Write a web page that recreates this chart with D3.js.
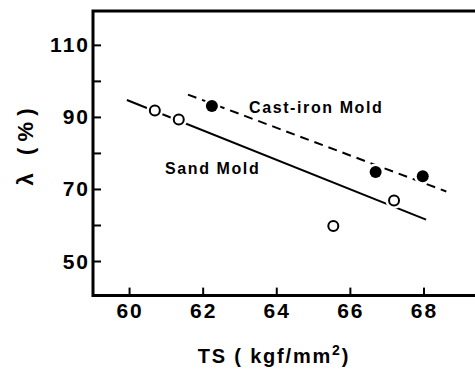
<!DOCTYPE html>
<html>
<head>
<meta charset="utf-8">
<script src="https://cdn.jsdelivr.net/npm/d3@7"></script>
<style>
  body { margin: 0; background: #fff; }
  svg text { font-family: Arial, "Liberation Sans", Helvetica, sans-serif; font-weight: bold; fill: #000; }
</style>
</head>
<body>
<svg id="chart" width="475" height="369"></svg>
<script>
const svg = d3.select("#chart");

// sand mold (open circles)
const sandTS = [60.7, 61.35, 65.55, 67.2];
const sandL = [91.8, 89.3, 59.7, 66.8];
// cast-iron mold (filled circles)
const ironTS = [62.25, 66.7, 67.98];
const ironL = [93.0, 74.7, 73.5];
// fitted lines, end points
const sandFitTS = [59.94, 68.07];
const sandFitL = [94.7, 61.5];
const ironFitTS = [61.6, 68.62];
const ironFitL = [96.2, 69.3];

const xTicks = [60, 62, 64, 66, 68];
const yTicks = [50, 60, 70, 80, 90, 100, 110];
const yLabels = [50, 70, 90, 110];

const x = d3.scaleLinear().domain([59.02, 69.4]).range([93, 475]);
const y = d3.scaleLinear().domain([40.4, 119.4]).range([295.6, 11]);

// frame: left, top, bottom
const frame = svg.append("g").attr("stroke", "#000").attr("stroke-width", 3).attr("fill", "none");
frame.append("path").attr("d", `M475,${y(119.4)} H${x(59.02)} V${y(40.4)} H475`);

// ticks pointing inward
const xAxis = svg.append("g").attr("transform", `translate(0,${y(40.4)})`)
  .call(d3.axisTop(x).tickValues(xTicks).tickSize(8).tickFormat(""));
xAxis.select(".domain").remove();
xAxis.selectAll("line").attr("stroke-width", 2);

svg.selectAll(".xlab").data(xTicks).join("text")
  .attr("class", "xlab")
  .attr("x", d => x(d) + 1)
  .attr("y", 318)
  .attr("text-anchor", "middle")
  .attr("font-size", 21)
  .attr("letter-spacing", 2)
  .text(d => d);

const yAxis = svg.append("g").attr("transform", `translate(${x(59.02)},0)`)
  .call(d3.axisRight(y).tickValues(yTicks).tickSize(8).tickFormat(""));
yAxis.select(".domain").remove();
yAxis.selectAll("line").attr("stroke-width", 2);

svg.selectAll(".ylab").data(yLabels).join("text")
  .attr("class", "ylab")
  .attr("x", 90)
  .attr("y", d => y(d) + 7.5)
  .attr("text-anchor", "end")
  .attr("font-size", 21)
  .attr("letter-spacing", 2)
  .text(d => d);

// fitted lines
svg.append("line")
  .attr("x1", x(sandFitTS[0])).attr("y1", y(sandFitL[0]))
  .attr("x2", x(sandFitTS[1])).attr("y2", y(sandFitL[1]))
  .attr("stroke", "#000").attr("stroke-width", 2);
svg.append("line")
  .attr("x1", x(ironFitTS[0])).attr("y1", y(ironFitL[0]))
  .attr("x2", x(ironFitTS[1])).attr("y2", y(ironFitL[1]))
  .attr("stroke", "#000").attr("stroke-width", 2)
  .attr("stroke-dasharray", "9,6");

// white halos so lines break around the markers
const allPts = sandTS.map((t, i) => [t, sandL[i]]).concat(ironTS.map((t, i) => [t, ironL[i]]));
svg.selectAll(".halo").data(allPts).join("circle")
  .attr("class", "halo")
  .attr("cx", d => x(d[0])).attr("cy", d => y(d[1]))
  .attr("r", 8.5).attr("fill", "#fff");

svg.selectAll(".sand").data(sandTS).join("circle")
  .attr("class", "sand")
  .attr("cx", d => x(d)).attr("cy", (d, i) => y(sandL[i]))
  .attr("r", 5).attr("fill", "#fff").attr("stroke", "#000").attr("stroke-width", 2);

svg.selectAll(".iron").data(ironTS).join("circle")
  .attr("class", "iron")
  .attr("cx", d => x(d)).attr("cy", (d, i) => y(ironL[i]))
  .attr("r", 6).attr("fill", "#000");

// series labels
svg.append("text").attr("x", 249).attr("y", 113)
  .attr("font-size", 16).attr("letter-spacing", 1.6)
  .text("Cast-iron Mold");
svg.append("text").attr("x", 165).attr("y", 174)
  .attr("font-size", 16).attr("letter-spacing", 1.6)
  .text("Sand Mold");

// axis titles
const xt = svg.append("text").attr("x", 274).attr("y", 363)
  .attr("text-anchor", "middle").attr("font-size", 20).attr("letter-spacing", 1.8);
xt.append("tspan").text("TS ( kgf/mm");
xt.append("tspan").attr("font-size", 14).attr("dy", -8).text("2");
xt.append("tspan").attr("dy", 8).text(")");

svg.append("text")
  .attr("transform", "translate(33,147) rotate(-90)")
  .attr("text-anchor", "middle").attr("font-size", 22)
  .attr("xml:space", "preserve")
  .text("λ   ( % )");
</script>
</body>
</html>
